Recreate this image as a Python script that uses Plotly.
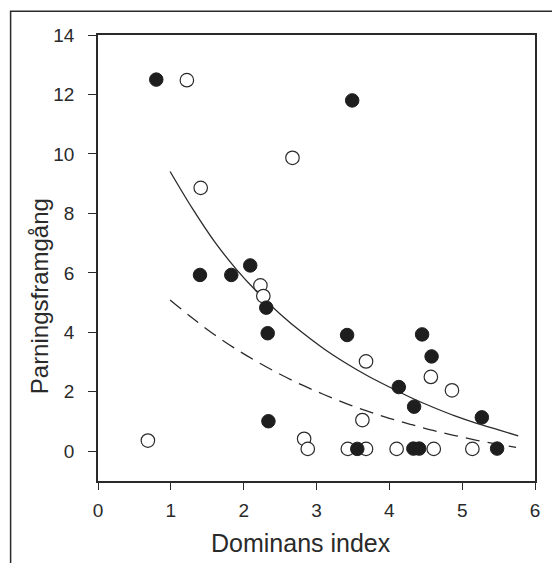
import plotly.graph_objects as go

# Filled (black) points
filled_x = [0.80, 3.49, 1.40, 1.83, 2.09, 2.31, 2.33, 2.34, 3.42, 3.56, 4.13, 4.34, 4.45, 4.58, 4.33, 4.41, 5.27, 5.48]
filled_y = [12.5, 11.8, 5.93, 5.93, 6.25, 4.83, 3.97, 1.01, 3.91, 0.08, 2.16, 1.50, 3.93, 3.19, 0.09, 0.09, 1.14, 0.09]

# Open points
open_x = [0.685, 1.22, 1.41, 2.67, 2.23, 2.27, 2.83, 2.88, 3.43, 3.68, 3.68, 3.63, 4.10, 4.57, 4.86, 4.61, 5.14]
open_y = [0.36, 12.48, 8.86, 9.87, 5.58, 5.22, 0.42, 0.08, 0.08, 0.08, 3.02, 1.05, 0.08, 2.50, 2.05, 0.08, 0.08]

# Solid fitted curve
solid_x = [0.99, 1.3, 1.6, 1.9, 2.2, 2.5, 2.8, 3.1, 3.4, 3.7, 4.0, 4.3, 4.6, 4.9, 5.2, 5.5, 5.77]
solid_y = [9.41, 8.15, 7.05, 6.12, 5.32, 4.62, 4.00, 3.45, 2.97, 2.54, 2.16, 1.80, 1.48, 1.19, 0.94, 0.72, 0.52]

# Dashed fitted curve
dash_x = [0.99, 1.3, 1.6, 1.9, 2.2, 2.5, 2.8, 3.1, 3.4, 3.7, 4.0, 4.3, 4.6, 4.9, 5.2, 5.5, 5.74]
dash_y = [5.09, 4.47, 3.92, 3.43, 2.99, 2.59, 2.23, 1.91, 1.61, 1.35, 1.11, 0.90, 0.70, 0.53, 0.37, 0.23, 0.13]

x_ticks = [0, 1, 2, 3, 4, 5, 6]
y_ticks = [0, 2, 4, 6, 8, 10, 12, 14]

ink = "#2a2a2a"
font_family = "Liberation Sans, Arial, Helvetica, sans-serif"

fig = go.Figure()

fig.add_trace(go.Scatter(
    x=solid_x, y=solid_y, mode="lines", line=dict(color=ink, width=1.3, shape="spline"),
    hoverinfo="skip", showlegend=False))
fig.add_trace(go.Scatter(
    x=dash_x, y=dash_y, mode="lines", line=dict(color=ink, width=1.3, shape="spline", dash="14px,8px"),
    hoverinfo="skip", showlegend=False))

fig.add_trace(go.Scatter(
    x=open_x, y=open_y, mode="markers",
    marker=dict(size=13.5, color="white", line=dict(color=ink, width=1.2)),
    showlegend=False))
fig.add_trace(go.Scatter(
    x=filled_x, y=filled_y, mode="markers",
    marker=dict(size=13.5, color="#1e1e1e", line=dict(color="#1e1e1e", width=1)),
    showlegend=False))

axis_common = dict(
    showline=True, linecolor=ink, linewidth=1.5, mirror=True,
    ticks="outside", tickcolor=ink, tickwidth=1.3,
    showgrid=False, zeroline=False,
    tickfont=dict(family=font_family, size=19, color=ink),
)

fig.update_xaxes(range=[0, 6], tickvals=x_ticks, ticktext=[str(v) for v in x_ticks],
                 ticklen=7, ticklabelstandoff=4, **axis_common)
fig.update_yaxes(range=[-1, 14], tickvals=y_ticks, ticktext=[str(v) for v in y_ticks],
                 ticklen=8, ticklabelstandoff=10, **axis_common)

fig.add_annotation(text="Dominans index", xref="paper", yref="paper",
                   x=0.465, y=-0.139, xanchor="center", yanchor="middle", showarrow=False,
                   font=dict(family=font_family, size=25, color=ink))
fig.add_annotation(text="Parningsframgång", xref="paper", yref="paper",
                   x=-0.132, y=0.415, xanchor="center", yanchor="middle", showarrow=False,
                   textangle=-90, font=dict(family=font_family, size=24, color=ink))

# outer frame (left and top edges visible)
fig.add_shape(type="rect", xref="paper", yref="paper",
              x0=-0.2, y0=-0.3, x1=1.2, y1=1.053,
              line=dict(color=ink, width=1.5), fillcolor="rgba(0,0,0,0)", layer="below")

fig.update_layout(
    width=552, height=563,
    margin=dict(l=98, r=15, t=35, b=82),
    paper_bgcolor="white", plot_bgcolor="white",
)

fig.write_html("out.html")
